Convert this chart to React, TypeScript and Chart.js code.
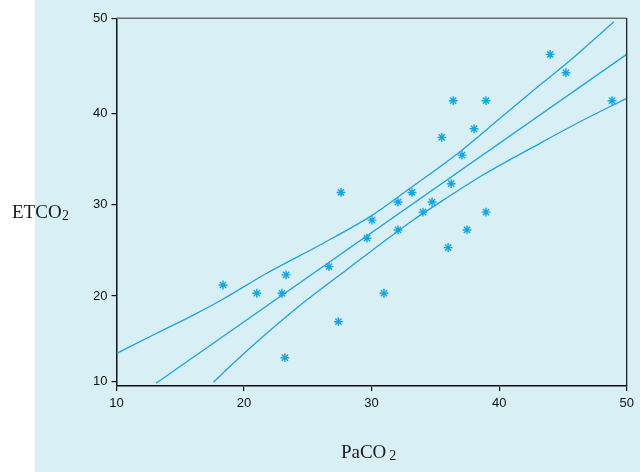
import React, { useEffect, useRef } from "react";
import { Chart, registerables, LinearScale } from "chart.js";

// ---- data ----
const pacoValues = [18.35, 21.0, 22.97, 23.3, 23.2, 26.66, 27.6, 27.4, 29.64, 30.03, 30.97, 32.07, 32.07, 33.17, 34.03, 34.74, 35.5, 36.4, 36.24, 36.0, 37.09, 37.48, 38.03, 38.97, 38.97, 44.0, 45.24, 48.85];
const etcoValues = [21.2, 20.3, 20.3, 22.3, 12.8, 23.2, 31.3, 17.0, 26.3, 28.27, 20.3, 30.25, 27.2, 31.3, 29.15, 30.25, 37.36, 41.33, 32.26, 25.27, 35.4, 27.2, 38.3, 41.33, 29.15, 46.2, 44.27, 41.33];

const regressionX = [13.1, 50];
const regressionY = [9.81, 46.21];

const upperBandX = [10.02, 13.15, 16.29, 18.37, 21.78, 25.95, 29.87, 33.01, 36.93, 40.07, 43.2, 45.3, 49.0];
const upperBandY = [13.31, 15.65, 17.98, 19.65, 22.48, 25.56, 28.65, 31.76, 35.78, 39.45, 42.98, 45.26, 49.64];

const lowerBandX = [17.59, 19.16, 21.78, 24.91, 28.05, 30.09, 33.27, 34.84, 38.5, 43.2, 46.6, 50.0];
const lowerBandY = [9.93, 12.15, 15.65, 19.53, 22.87, 25.02, 28.29, 29.74, 33.03, 36.7, 39.26, 41.58];

const xTickValues = [10, 20, 30, 40, 50];
const yTickValues = [10, 20, 30, 40, 50];

// ---- y scale geometry (the printed axis is not evenly spaced) ----
const Y_KNOT_VALUES = [9.5, 10, 20, 30, 40, 50];
const Y_KNOT_FRACTIONS = [0, 0.0117, 0.2448, 0.4942, 0.7416, 1];

function valueToFraction(v: number): number {
  const kv = Y_KNOT_VALUES, kf = Y_KNOT_FRACTIONS;
  let i = 0;
  if (v <= kv[0]) i = 0;
  else if (v >= kv[kv.length - 1]) i = kv.length - 2;
  else { while (i < kv.length - 2 && v > kv[i + 1]) i++; }
  const t = (v - kv[i]) / (kv[i + 1] - kv[i]);
  return kf[i] + t * (kf[i + 1] - kf[i]);
}
function fractionToValue(f: number): number {
  const kv = Y_KNOT_VALUES, kf = Y_KNOT_FRACTIONS;
  let i = 0;
  if (f <= kf[0]) i = 0;
  else if (f >= kf[kf.length - 1]) i = kf.length - 2;
  else { while (i < kf.length - 2 && f > kf[i + 1]) i++; }
  const t = (f - kf[i]) / (kf[i + 1] - kf[i]);
  return kv[i] + t * (kv[i + 1] - kv[i]);
}

class PiecewiseScale extends LinearScale {
  static id = "piecewise";
  static defaults = LinearScale.defaults;
  getPixelForValue(value: any) {
    if (value === null || value === undefined || isNaN(value)) return NaN;
    return (this as any).getPixelForDecimal(valueToFraction(value));
  }
  getValueForPixel(pixel: number) {
    return fractionToValue((this as any).getDecimalForPixel(pixel));
  }
}

Chart.register(...registerables);
Chart.register(PiecewiseScale as any);

const LINE_COLOR = "#1ea3df";
const MARK_COLOR = "#12a6e4";
const BG = "#d8eff6";

const titlesPlugin = {
  id: "titlesAndFrame",
  afterDraw(chart: any) {
    const { ctx, chartArea } = chart;
    const { left, right, top, bottom } = chartArea;
    ctx.save();
    // frame top & right
    ctx.strokeStyle = "#6e6e6e";
    ctx.lineWidth = 1.5;
    ctx.beginPath();
    ctx.moveTo(left, top);
    ctx.lineTo(right, top);
    ctx.stroke();
    ctx.strokeStyle = "#111";
    ctx.lineWidth = 1.2;
    ctx.beginPath();
    ctx.moveTo(right, top);
    ctx.lineTo(right, bottom);
    ctx.stroke();

    ctx.fillStyle = "#1a1a1a";
    ctx.textBaseline = "alphabetic";
    ctx.textAlign = "left";
    // y title
    ctx.font = '19px "Liberation Serif"';
    const yMain = "ETCO";
    const yBase = (top + bottom) / 2 + 16;
    ctx.fillText(yMain, 12, yBase);
    const w1 = ctx.measureText(yMain).width;
    ctx.font = '14px "Liberation Serif"';
    ctx.fillText("2", 12 + w1 + 0.5, yBase + 2);
    // x title
    ctx.font = '19px "Liberation Serif"';
    const xMain = "PaCO";
    const w2 = ctx.measureText(xMain).width;
    ctx.font = '14px "Liberation Serif"';
    const wSub = ctx.measureText("2").width;
    const total = w2 + 3 + wSub;
    const xStart = (left + right) / 2 - 3 - total / 2;
    const xBase = bottom + 72;
    ctx.font = '19px "Liberation Serif"';
    ctx.fillText(xMain, xStart, xBase);
    ctx.font = '14px "Liberation Serif"';
    ctx.fillText("2", xStart + w2 + 3, xBase + 2);
    ctx.restore();
  },
};

export default function App() {
  const ref = useRef<HTMLCanvasElement | null>(null);

  useEffect(() => {
    if (!ref.current) return;
    const points = pacoValues.map((x, i) => ({ x, y: etcoValues[i] }));
    const reg = regressionX.map((x, i) => ({ x, y: regressionY[i] }));
    const up = upperBandX.map((x, i) => ({ x, y: upperBandY[i] }));
    const lo = lowerBandX.map((x, i) => ({ x, y: lowerBandY[i] }));

    const lineDs = (data: any[], smooth: boolean) => ({
      data,
      showLine: true,
      borderColor: LINE_COLOR,
      borderWidth: 1.3,
      pointRadius: 0,
      fill: false,
      cubicInterpolationMode: smooth ? "monotone" : "default",
      tension: smooth ? 0.4 : 0,
    });

    const tickFont = { family: '"Liberation Sans", Arial, sans-serif', size: 13 };

    const chart = new Chart(ref.current, {
      type: "scatter",
      data: {
        datasets: [
          lineDs(up, true) as any,
          lineDs(reg, false) as any,
          lineDs(lo, true) as any,
          {
            data: points,
            showLine: false,
            pointStyle: "star",
            pointRadius: 4.4,
            pointBorderWidth: 1.4,
            borderColor: MARK_COLOR,
            backgroundColor: MARK_COLOR,
          } as any,
        ],
      },
      options: {
        animation: false,
        responsive: false,
        devicePixelRatio: 1,
        layout: { padding: { left: 0, top: 18.3, right: 13.3, bottom: 56 } },
        plugins: { legend: { display: false }, tooltip: { enabled: false } },
        scales: {
          x: {
            type: "linear",
            min: 10,
            max: 50,
            afterBuildTicks: (s: any) => { s.ticks = xTickValues.map((v) => ({ value: v })); },
            afterFit: (s: any) => { s.height = 30; },
            grid: { display: true, drawOnChartArea: false, drawTicks: true, tickLength: 5, color: "#111", lineWidth: 1.2 },
            border: { display: true, color: "#111", width: 1.5 },
            ticks: { font: tickFont, color: "#111", padding: 5, maxRotation: 0, autoSkip: false },
          },
          y: {
            type: "piecewise" as any,
            min: 9.5,
            max: 50,
            afterBuildTicks: (s: any) => { s.ticks = yTickValues.map((v) => ({ value: v })); },
            afterFit: (s: any) => { s.width = 116.5; },
            grid: { display: true, drawOnChartArea: false, drawTicks: true, tickLength: 5, color: "#111", lineWidth: 1.2 },
            border: { display: true, color: "#111", width: 1.5 },
            ticks: { font: tickFont, color: "#111", padding: 4, autoSkip: false },
          } as any,
        },
      },
      plugins: [titlesPlugin],
    });
    return () => chart.destroy();
  }, []);

  return (
    <div style={{ position: "absolute", left: 0, top: 0, width: 640, height: 472, background: "#ffffff" }}>
      <div style={{ position: "absolute", left: 35, top: 0, width: 605, height: 472, background: BG }} />
      <canvas ref={ref} width={640} height={472} style={{ position: "absolute", left: 0, top: 0, width: 640, height: 472 }} />
    </div>
  );
}
